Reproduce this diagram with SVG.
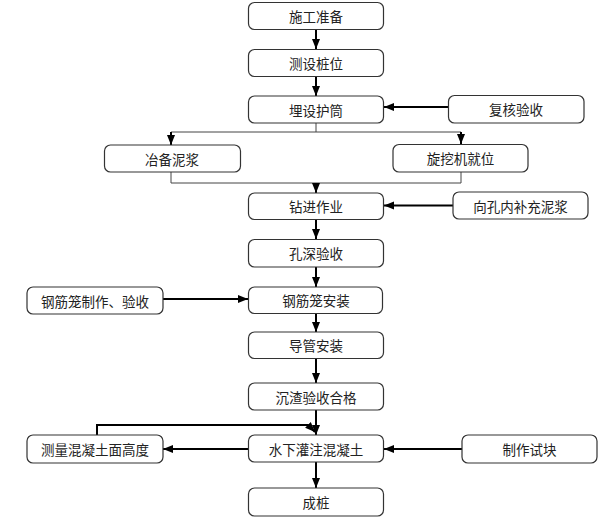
<svg xmlns="http://www.w3.org/2000/svg" width="610" height="522" viewBox="0 0 610 522">
<style>
.b{fill:#fff;stroke:#333;stroke-width:1.2}
.t{font-family:"Noto Sans CJK SC","Noto Sans",sans-serif;font-size:13.5px;fill:#222;text-anchor:middle;dominant-baseline:central}
.c{fill:none;stroke:#000;stroke-width:2}
.g{fill:none;stroke:#444;stroke-width:1}
</style>
<defs>
<marker id="a" markerUnits="userSpaceOnUse" markerWidth="10" markerHeight="10" viewBox="0 0 10 10" refX="10" refY="5" orient="auto">
<path d="M0,1 L10,5 L0,9 Z" fill="#000"/>
</marker>
</defs>
<rect width="610" height="522" fill="#fff"/>
<g id="connectors">
<path class="c" d="M316,29.5 V49" marker-end="url(#a)"/>
<path class="c" d="M316,76.5 V96" marker-end="url(#a)"/>
<path class="c" d="M448,107 H384" marker-end="url(#a)"/>
<path class="g" d="M316,123 V132 M171,132 H461"/>
<path class="c" d="M171,132 V145" marker-end="url(#a)"/>
<path class="c" d="M461,132 V144" marker-end="url(#a)"/>
<path class="g" d="M171,172 V183 M461,172 V183 M171,183 H461"/>
<path class="c" d="M316,183 V193" marker-end="url(#a)"/>
<path class="c" d="M453,205.5 H384" marker-end="url(#a)"/>
<path class="c" d="M316,219.5 V239" marker-end="url(#a)"/>
<path class="c" d="M316,267 V287" marker-end="url(#a)"/>
<path class="c" d="M163,299 H248" marker-end="url(#a)"/>
<path class="c" d="M316,313 V332" marker-end="url(#a)"/>
<path class="c" d="M316,358.5 V383" marker-end="url(#a)"/>
<path class="c" d="M316,410 V435" marker-end="url(#a)"/>
<path class="c" d="M97,435 V425 H308 L315,432" marker-end="url(#a)"/>
<path class="c" d="M248,449 H163" marker-end="url(#a)"/>
<path class="c" d="M462,449 H384" marker-end="url(#a)"/>
<path class="c" d="M316,462 V488" marker-end="url(#a)"/>
</g>
<g id="n1"><rect class="b" x="248.5" y="2.5" width="135" height="27" rx="6"/><text class="t" x="316" y="16">施工准备</text></g>
<g id="n2"><rect class="b" x="248.5" y="49.5" width="135" height="27" rx="6"/><text class="t" x="316" y="63">测设桩位</text></g>
<g id="n3"><rect class="b" x="248.5" y="96" width="135" height="27" rx="6"/><text class="t" x="316" y="109.5">埋设护筒</text></g>
<g id="n4"><rect class="b" x="448.5" y="95.5" width="135.5" height="27.5" rx="6"/><text class="t" x="516" y="109">复核验收</text></g>
<g id="n5"><rect class="b" x="104.5" y="145" width="136" height="27" rx="6"/><text class="t" x="172" y="158.5">冶备泥浆</text></g>
<g id="n6"><rect class="b" x="393" y="144.5" width="135" height="27.5" rx="6"/><text class="t" x="460.5" y="158">旋挖机就位</text></g>
<g id="n7"><rect class="b" x="248.5" y="193" width="135" height="26.5" rx="6"/><text class="t" x="316" y="206">钻进作业</text></g>
<g id="n8"><rect class="b" x="453" y="192" width="135" height="27" rx="6"/><text class="t" x="520.5" y="205.5">向孔内补充泥浆</text></g>
<g id="n9"><rect class="b" x="248.5" y="239.5" width="135" height="27.5" rx="6"/><text class="t" x="316" y="253">孔深验收</text></g>
<g id="n10"><rect class="b" x="27" y="287" width="136" height="27" rx="6"/><text class="t" x="95" y="300.5">钢筋笼制作、验收</text></g>
<g id="n11"><rect class="b" x="248.5" y="287" width="134" height="26.5" rx="6"/><text class="t" x="316" y="300">钢筋笼安装</text></g>
<g id="n12"><rect class="b" x="248.5" y="332" width="135" height="26.5" rx="6"/><text class="t" x="316" y="345">导管安装</text></g>
<g id="n13"><rect class="b" x="248.5" y="383" width="135" height="27" rx="6"/><text class="t" x="316" y="396.5">沉渣验收合格</text></g>
<g id="n14"><rect class="b" x="27" y="435" width="136" height="28" rx="6"/><text class="t" x="95" y="449">测量混凝土面高度</text></g>
<g id="n15"><rect class="b" x="248.5" y="435" width="135" height="27" rx="6"/><text class="t" x="316" y="448.5">水下灌注混凝土</text></g>
<g id="n16"><rect class="b" x="462" y="435" width="135" height="28" rx="6"/><text class="t" x="529.5" y="449">制作试块</text></g>
<g id="n17"><rect class="b" x="248.5" y="488" width="135" height="28" rx="6"/><text class="t" x="316" y="502">成桩</text></g>
</svg>
